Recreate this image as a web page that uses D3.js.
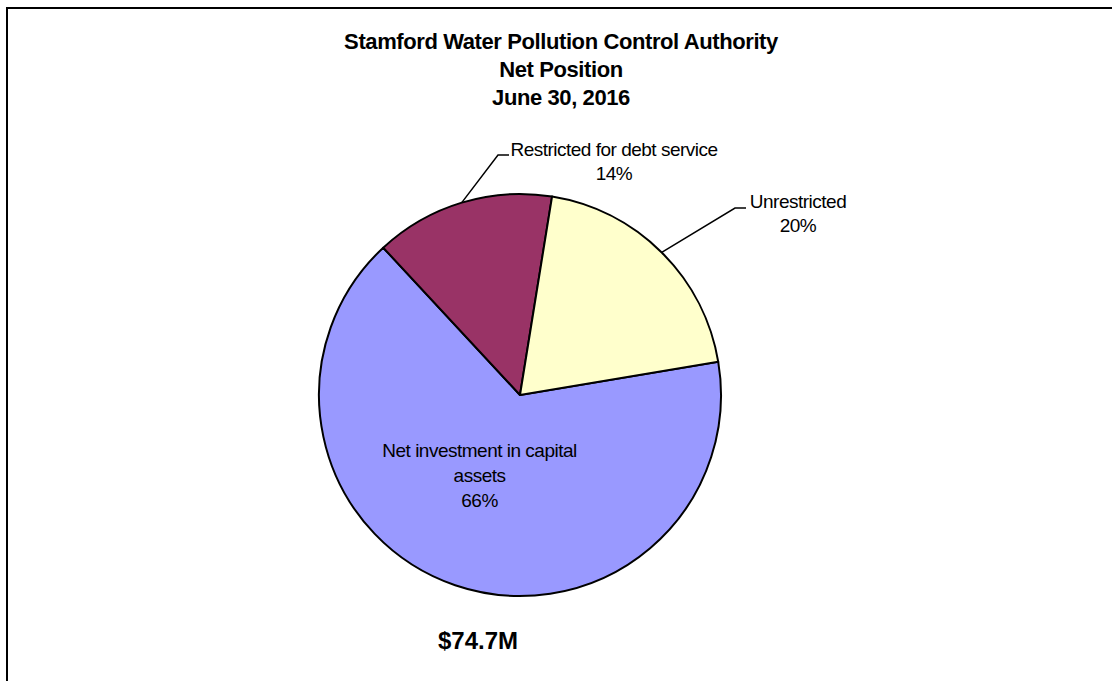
<!DOCTYPE html>
<html lang="en">
<head>
  <style>
    body { margin: 0; background: #fff; }
    text { font-family: "Liberation Sans", Arial, sans-serif; fill: #000; }
    .title { font-size: 22px; font-weight: bold; letter-spacing: -0.4px; }
    .label { font-size: 19px; letter-spacing: -0.5px; }
    .total { font-size: 24px; font-weight: bold; }
  </style>
  <script src="https://d3js.org/d3.v7.min.js"></script>
</head>
<body>
  <script>
    const categories = ["Net investment in capital assets", "Restricted for debt service", "Unrestricted"];
    const labelLines = [["Net investment in capital", "assets"], ["Restricted for debt service"], ["Unrestricted"]];
    const values = [49.1, 10.8, 14.8]; // $M
    const colors = ["#9999FF", "#993366", "#FFFFCC"];
    const titleLines = ["Stamford Water Pollution Control Authority", "Net Position", "June 30, 2016"];
    const totalLabel = "$74.7M";

    const W = 1112, H = 681;
    const cx = 520, cy = 395, r = 201;

    const svg = d3.select("body")
      .append("svg")
      .attr("width", W)
      .attr("height", H);

    // frame (cut off at right and bottom)
    svg.append("path")
      .attr("d", `M7,${H} V8 H${W}`)
      .attr("fill", "none")
      .attr("stroke", "#000")
      .attr("stroke-width", 2);

    svg.append("text")
      .attr("class", "title")
      .attr("text-anchor", "middle")
      .selectAll("tspan")
      .data(titleLines)
      .join("tspan")
      .attr("x", 561)
      .attr("y", (d, i) => 49 + i * 28)
      .text(d => d);

    const pie = d3.pie()
      .sort(null)
      .value(d => d)
      .startAngle(80.5 * Math.PI / 180)
      .endAngle(80.5 * Math.PI / 180 + 2 * Math.PI);

    const arcs = pie(values);
    const arc = d3.arc().innerRadius(0).outerRadius(r);
    const total = d3.sum(values);

    const g = svg.append("g").attr("transform", `translate(${cx},${cy})`);

    g.selectAll("path.slice")
      .data(arcs)
      .join("path")
      .attr("class", "slice")
      .attr("d", arc)
      .attr("fill", (d, i) => colors[i])
      .attr("stroke", "#000")
      .attr("stroke-width", 2)
      .attr("stroke-linejoin", "round");

    const pct = d => Math.round(d.value / total * 100) + "%";

    // inside label for the big slice
    const a0 = arcs[0];
    const mid0 = (a0.startAngle + a0.endAngle) / 2;
    const lx = Math.sin(mid0) * r * 0.47 - 10, ly = -Math.cos(mid0) * r * 0.47;
    g.append("text")
      .attr("class", "label")
      .attr("text-anchor", "middle")
      .selectAll("tspan")
      .data([...labelLines[0], pct(a0)])
      .join("tspan")
      .attr("x", lx)
      .attr("y", (d, i) => ly - 27 + i * 25)
      .text(d => d);

    // outside labels with leader lines: elbow offsets relative to pie center
    const elbows = [null, { x: -22, y: -240, tx: 116, ty: 1 }, { x: 215, y: -187, tx: 63, ty: 0 }];
    [1, 2].forEach(i => {
      const a = arcs[i];
      const mid = (a.startAngle + a.endAngle) / 2;
      const sx = Math.sin(mid) * r, sy = -Math.cos(mid) * r;
      const e = elbows[i];
      g.append("path")
        .attr("d", `M${sx},${sy} L${e.x},${e.y} H${e.x + 11}`)
        .attr("fill", "none")
        .attr("stroke", "#000")
        .attr("stroke-width", 1.5);
      g.append("text")
        .attr("class", "label")
        .attr("text-anchor", "middle")
        .selectAll("tspan")
        .data([...labelLines[i], pct(a)])
        .join("tspan")
        .attr("x", e.x + e.tx)
        .attr("y", (d, k) => e.y + e.ty + k * 24)
        .text(d => d);
    });

    svg.append("text")
      .attr("class", "total")
      .attr("x", 478)
      .attr("y", 649)
      .attr("text-anchor", "middle")
      .text(totalLabel);
  </script>
</body>
</html>
